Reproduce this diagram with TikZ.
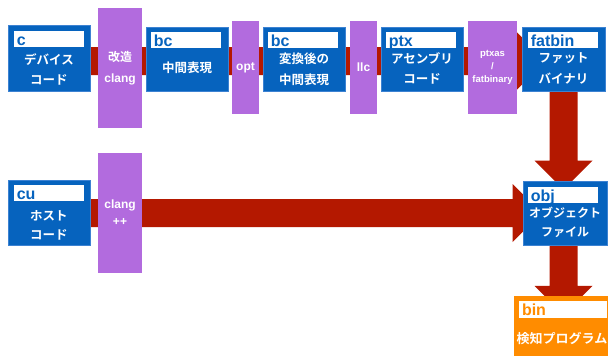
\documentclass[tikz,border=0pt]{standalone}
\usepackage{fontspec}
\setmainfont{Liberation Sans}
\newfontfamily\jp{Noto Sans CJK JP}[BoldFont={Noto Sans CJK JP Bold}]
\usetikzlibrary{calc}
\definecolor{boxblue}{RGB}{6,99,190}
\definecolor{edgeblue}{RGB}{60,130,210}
\definecolor{toolpurple}{RGB}{178,107,222}
\definecolor{arrowred}{RGB}{180,24,0}
\definecolor{binorange}{RGB}{255,140,0}
\pgfdeclarelayer{bg}
\pgfsetlayers{bg,main}
\newcommand\hArrow[2]{\fill[arrowred] ($(#1)+(0,-14)$) -- ($(#2)+(-29,-14)$) -- ($(#2)+(-29,-29)$) -- (#2) -- ($(#2)+(-29,29)$) -- ($(#2)+(-29,14)$) -- ($(#1)+(0,14)$) -- cycle;}
\newcommand\vArrow[2]{\fill[arrowred] ($(#1)+(-14,0)$) -- ($(#2)+(-14,-29)$) -- ($(#2)+(-29,-29)$) -- (#2) -- ($(#2)+(29,-29)$) -- ($(#2)+(14,-29)$) -- ($(#1)+(14,0)$) -- cycle;}
\begin{document}
\begin{tikzpicture}[x=1pt,y=-1pt,
  filebox/.style={fill=boxblue, draw=edgeblue, line width=0.7pt, minimum width=82pt, minimum height=64pt, inner sep=0pt},
  toolbox/.style={fill=toolpurple, inner sep=0pt, text=white, font=\bfseries\fontsize{12}{21}\selectfont, align=center},
  tag/.style={fill=white, anchor=north west, minimum height=16.5pt, inner xsep=3pt, inner ysep=0pt, text height=12.5pt, text depth=0pt, text width=64pt, align=left, font=\bfseries\fontsize{16}{16}\selectfont, text=boxblue},
  jptext/.style={text=white, font=\jp\bfseries\fontsize{12.5}{20.5}\selectfont, align=center, inner sep=0pt}]
\useasboundingbox (0,0) rectangle (608,356);

% file boxes
\node[filebox, minimum height=66pt] (c) at (49,58) {};
\node[tag] (cT) at ($(c.north west)+(6,6)$) {c};
\node[jptext] (cX) at (49,69.5) {デバイス\\コード};

\node[filebox] (bc) at (187,59) {};
\node[tag] (bcT) at ($(bc.north west)+(5,5)$) {bc};
\node[jptext] (bcX) at (187,68) {中間表現};

\node[filebox] (bcb) at (304,59) {};
\node[tag] (bcbT) at ($(bcb.north west)+(5,5)$) {bc};
\node[jptext] (bcbX) at (304,69.5) {変換後の\\中間表現};

\node[filebox] (ptx) at (422,59) {};
\node[tag] (ptxT) at ($(ptx.north west)+(5,5)$) {ptx};
\node[jptext] (ptxX) at (422,68.5) {アセンブリ\\コード};

\node[filebox, minimum width=83pt] (fatbin) at (563.5,59) {};
\node[tag] (fatbinT) at ($(fatbin.north west)+(6,5)$) {fatbin};
\node[jptext] (fatbinX) at (563.5,68.5) {ファット\\バイナリ};

\node[filebox, minimum width=82pt, minimum height=65pt] (cu) at (49,212.5) {};
\node[tag] (cuT) at ($(cu.north west)+(6,5)$) {cu};
\node[jptext, font=\jp\bfseries\fontsize{12.5}{19}\selectfont] (cuX) at (49,225.5) {ホスト\\コード};

\node[filebox, minimum width=84pt] (obj) at (565,213) {};
\node[tag] (objT) at ($(obj.north west)+(5,6)$) {obj};
\node[jptext, font=\jp\bfseries\fontsize{12}{19}\selectfont] (objX) at (565,222.5) {オブジェクト\\ファイル};

\node[fill=binorange, minimum width=94pt, minimum height=60pt, inner sep=0pt] (bin) at (561,326) {};
\node[tag, text width=82pt, text=binorange] (binT) at ($(bin.north west)+(5,5)$) {bin};
\node[jptext, font=\jp\bfseries\fontsize{13}{19}\selectfont] (binX) at (562,338) {検知プログラム};

% tool boxes
\node[toolbox, minimum width=44pt, minimum height=120pt] (clang) at (120,68) {{\jp 改造}\\clang};
\node[toolbox, minimum width=27pt, minimum height=93pt] (opt) at (245.5,67.5) {opt};
\node[toolbox, minimum width=27pt, minimum height=93pt] (llc) at (363.5,67.5) {llc};
\node[toolbox, minimum width=49pt, minimum height=93pt, font=\bfseries\fontsize{9.5}{13}\selectfont] (ptxas) at (492.5,67.5) {ptxas\\/\\fatbinary};
\node[toolbox, minimum width=44pt, minimum height=120pt, font=\bfseries\fontsize{12}{17}\selectfont] (clangpp) at (120,213) {clang\\++};

% arrows
\coordinate (s1) at ($(c.east)+(-1,3)$);
\coordinate (t1) at ($(fatbin.west)+(24,2)$);
\coordinate (s2) at (cu.east |- obj.west);
\coordinate (t2) at ($(obj.west)+(19,0)$);
\coordinate (s3) at ($(fatbin.south)+(0,-1)$);
\coordinate (t3) at ($(fatbin.south |- obj.north)+(0,9)$);
\coordinate (s4) at ($(fatbin.south |- obj.south)+(0,-1)$);
\coordinate (t4) at ($(fatbin.south |- bin.north)+(0,19)$);
\begin{pgfonlayer}{bg}
\hArrow{s1}{t1}
\hArrow{s2}{t2}
\vArrow{s3}{t3}
\vArrow{s4}{t4}
\end{pgfonlayer}
\end{tikzpicture}
\end{document}
